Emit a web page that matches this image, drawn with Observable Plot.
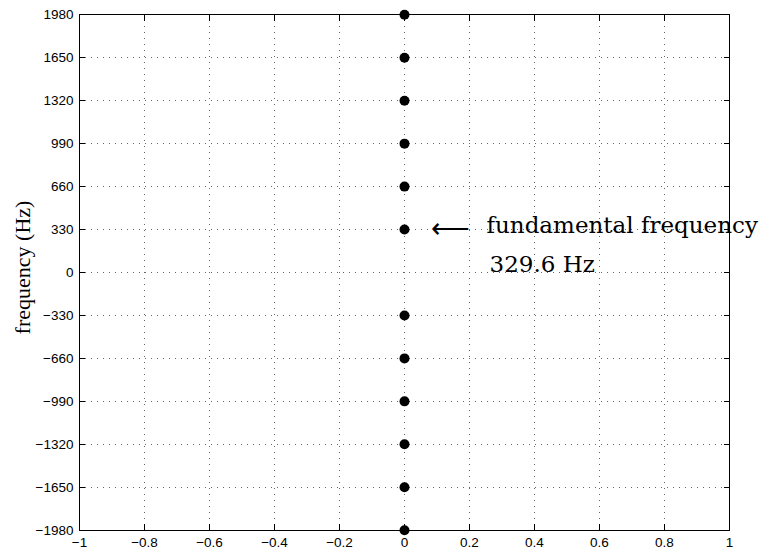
<!DOCTYPE html>
<html>
<head>
<meta charset="utf-8">
<script src="https://cdn.jsdelivr.net/npm/d3@7"></script>
<script src="https://cdn.jsdelivr.net/npm/@observablehq/plot@0.6"></script>
<style>
  html, body { margin: 0; padding: 0; background: #fff; }
  svg { display: block; }
</style>
</head>
<body>
<div id="chart"></div>
<script>
// Harmonic frequencies of a 329.6 Hz tone (positive and negative)
const harmonics = [-1977.6, -1648, -1318.4, -988.8, -659.2, -329.6, 329.6, 659.2, 988.8, 1318.4, 1648, 1977.6];
const harmonicX = 0;
const yTicks = [-1980, -1650, -1320, -990, -660, -330, 0, 330, 660, 990, 1320, 1650, 1980];
const xTicks = [-1, -0.8, -0.6, -0.4, -0.2, 0, 0.2, 0.4, 0.6, 0.8, 1];
const yLabel = "frequency (Hz)";
const annotationArrow = ["\u27F5"];
const annotationLines = ["fundamental frequency", "329.6 Hz"];
const annotationX = 0.08;
const annotationY = 329.6;

const dots = harmonics.map(f => ({x: harmonicX, y: f}));

const fmt = d3.format("");
const tickFont = {fontFamily: "'Liberation Sans', Arial, Helvetica, sans-serif", fontSize: 13.5, tickFormat: fmt};
const serif = "'DejaVu Serif', 'Liberation Serif', serif";
const inwardTick = {tickFormat: () => "", label: null, stroke: "#000", strokeWidth: 1};

const chart = Plot.plot({
  width: 763,
  height: 554,
  marginLeft: 79,
  marginRight: 34,
  marginTop: 14,
  marginBottom: 24,
  style: {background: "#fff", color: "#000"},
  x: {domain: [-1, 1], ticks: xTicks},
  y: {domain: [-1980, 1980], ticks: yTicks},
  marks: [
    Plot.gridX(xTicks, {stroke: "#666", strokeOpacity: 1, strokeDasharray: "1,5"}),
    Plot.gridY(yTicks, {stroke: "#666", strokeOpacity: 1, strokeDasharray: "1,5"}),
    Plot.axisX(xTicks, {anchor: "bottom", tickSize: 0, tickPadding: 7, label: null, ...tickFont}),
    Plot.axisY(yTicks, {anchor: "left", tickSize: 0, tickPadding: 6, label: null, ...tickFont}),
    Plot.axisX(xTicks, {anchor: "bottom", tickSize: 6, dy: -6, ...inwardTick}),
    Plot.axisX(xTicks, {anchor: "top", tickSize: 6, dy: 6, ...inwardTick}),
    Plot.axisY(yTicks, {anchor: "left", tickSize: 6, dx: 6, ...inwardTick}),
    Plot.axisY(yTicks, {anchor: "right", tickSize: 6, dx: -6, ...inwardTick}),
    Plot.frame({stroke: "#000", strokeWidth: 1}),
    Plot.dot(dots, {x: "x", y: "y", r: 5, fill: "#000", stroke: "none"}),
    Plot.text(annotationArrow, {x: annotationX, y: annotationY, text: d => d, textAnchor: "start", fontFamily: "'DejaVu Sans', sans-serif", fontWeight: 200, fontSize: 27, dx: 0, dy: -1}),
    Plot.text([annotationLines[0]], {x: annotationX, y: annotationY, text: d => d, textAnchor: "start", fontFamily: serif, fontSize: 23, dx: 56, dy: -4}),
    Plot.text([annotationLines[1]], {x: annotationX, y: annotationY, text: d => d, textAnchor: "start", fontFamily: serif, fontSize: 23, dx: 59, dy: 35}),
    Plot.text([yLabel], {frameAnchor: "left", text: d => d, rotate: -90, textAnchor: "middle", dx: -57, dy: -5, fontFamily: "'Liberation Serif', 'Times New Roman', serif", fontSize: 22})
  ]
});
document.getElementById("chart").appendChild(chart);
</script>
</body>
</html>
